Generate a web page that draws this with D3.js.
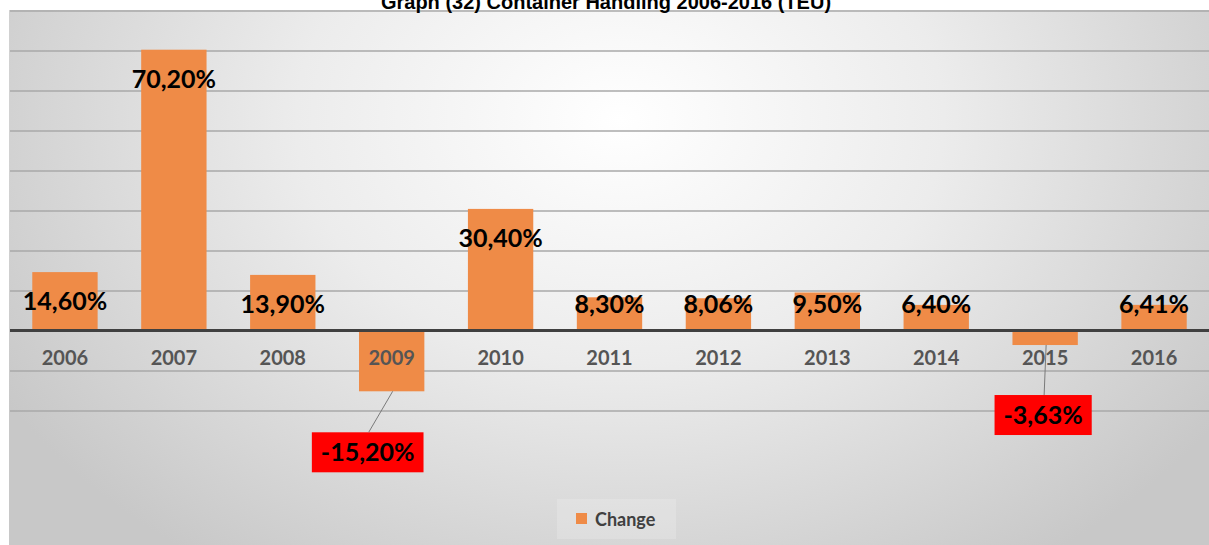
<!DOCTYPE html>
<html>
<head>
<meta charset="utf-8">
<script src="https://cdn.jsdelivr.net/npm/d3@7"></script>
<style>
  html, body { margin: 0; padding: 0; background: #ffffff; }
  svg { display: block; }
</style>
</head>
<body>
<svg id="chart" width="1209" height="545"></svg>
<script>
// Container handling, year-on-year change (%)
const years = ["2006", "2007", "2008", "2009", "2010", "2011", "2012", "2013", "2014", "2015", "2016"];
const changes = [14.60, 70.20, 13.90, -15.20, 30.40, 8.30, 8.06, 9.50, 6.40, -3.63, 6.41];
const labels = ["14,60%", "70,20%", "13,90%", "-15,20%", "30,40%", "8,30%", "8,06%", "9,50%", "6,40%", "-3,63%", "6,41%"];
const yTicks = [-20, -10, 0, 10, 20, 30, 40, 50, 60, 70, 80];
const seriesName = "Change";
const title = "Graph (32) Container Handling 2006-2016 (TEU)";

const W = 1209, H = 545;
const svg = d3.select("#chart");
const orange = "#ef8b47";
const valueFont = "Lato, 'Open Sans', sans-serif";

// background panel with soft radial shading
const defs = svg.append("defs");
const grad = defs.append("radialGradient")
  .attr("id", "bg").attr("gradientUnits", "userSpaceOnUse")
  .attr("cx", 620).attr("cy", 120).attr("r", 720)
  .attr("gradientTransform", "translate(620,120) scale(1,0.75) translate(-620,-120)");
grad.append("stop").attr("offset", "0%").attr("stop-color", "#ffffff");
grad.append("stop").attr("offset", "45%").attr("stop-color", "#ececec");
grad.append("stop").attr("offset", "100%").attr("stop-color", "#c8c8c8");

svg.append("rect").attr("x", 9).attr("y", 10).attr("width", W - 9).attr("height", H - 10)
  .attr("fill", "url(#bg)");

const x = d3.scaleBand().domain(years).range([10.5, 1208.5])
  .paddingInner(0.4).paddingOuter(0.2);
const y = d3.scaleLinear().domain([-20, 80]).range([410.5, 10.5]);

// horizontal gridlines
const grid = d3.axisLeft(y).tickValues(yTicks).tickSize(-(1209 - 10)).tickFormat("");
const gGrid = svg.append("g").attr("transform", "translate(10,0)").call(grid);
gGrid.select(".domain").remove();
gGrid.selectAll(".tick line")
  .attr("stroke", d => d === 0 ? "none" : "#a9a9a9")
  .attr("stroke-width", 1.7);

// bars
svg.append("g").selectAll("rect").data(years).join("rect")
  .attr("x", d => x(d))
  .attr("width", x.bandwidth())
  .attr("y", (d, i) => y(Math.max(0, changes[i])))
  .attr("height", (d, i) => Math.abs(y(changes[i]) - y(0)))
  .attr("fill", orange);

// zero baseline
svg.append("line")
  .attr("x1", 10).attr("x2", W)
  .attr("y1", y(0)).attr("y2", y(0))
  .attr("stroke", "#404040").attr("stroke-width", 3);

// title
svg.append("text")
  .attr("x", 606).attr("y", 9)
  .attr("text-anchor", "middle")
  .attr("font-family", "'Liberation Sans', Arial, sans-serif")
  .attr("font-weight", "bold").attr("font-size", 20)
  .attr("fill", "#000")
  .text(title);

// category labels
svg.append("g").selectAll("text").data(years).join("text")
  .attr("x", d => x(d) + x.bandwidth() / 2)
  .attr("y", y(0) + 34)
  .attr("text-anchor", "middle")
  .attr("font-family", valueFont).attr("font-weight", "bold").attr("font-size", 20)
  .attr("fill", "#555555")
  .text(d => d);

// value labels for positive bars, inside the top of the bar
years.forEach((yr, i) => {
  const v = changes[i];
  if (v < 0) return;
  const base = Math.min(y(v) + 38, y(0) - 18);
  svg.append("text")
    .attr("x", x(yr) + x.bandwidth() / 2)
    .attr("y", base)
    .attr("text-anchor", "middle")
    .attr("font-family", valueFont).attr("font-weight", "bold").attr("font-size", 25)
    .attr("fill", "#000")
    .text(labels[i]);
});

// callouts for negative bars: red boxes with a leader line
const calloutOffset = { "2009": [-24, 41], "2015": [-2, 50] };
years.forEach((yr, i) => {
  const v = changes[i];
  if (v >= 0) return;
  const cx = x(yr) + x.bandwidth() / 2;
  const bottom = y(v);
  const [dx, dy] = calloutOffset[yr];
  const bx = cx + dx, by = bottom + dy;
  const g = svg.append("g");
  const t = g.append("text")
    .attr("x", bx).attr("y", by + 29)
    .attr("text-anchor", "middle")
    .attr("font-family", valueFont).attr("font-weight", "bold").attr("font-size", 25)
    .attr("fill", "#000")
    .text(labels[i]);
  const w = t.node().getComputedTextLength() + 18;
  g.insert("rect", "text")
    .attr("x", bx - w / 2).attr("y", by)
    .attr("width", w).attr("height", 40)
    .attr("fill", "#ff0000");
  svg.append("line")
    .attr("x1", cx + 1).attr("y1", bottom)
    .attr("x2", bx + 1).attr("y2", by)
    .attr("stroke", "#7a7a7a").attr("stroke-width", 1);
});

// legend
const lg = svg.append("g");
lg.append("rect").attr("x", 557).attr("y", 499).attr("width", 119).attr("height", 40)
  .attr("fill", "#ffffff").attr("opacity", 0.18);
lg.append("rect").attr("x", 576).attr("y", 513).attr("width", 11).attr("height", 11)
  .attr("fill", orange);
lg.append("text").attr("x", 595).attr("y", 526)
  .attr("font-family", valueFont).attr("font-weight", "bold").attr("font-size", 18)
  .attr("fill", "#404040")
  .text(seriesName);
</script>
</body>
</html>
